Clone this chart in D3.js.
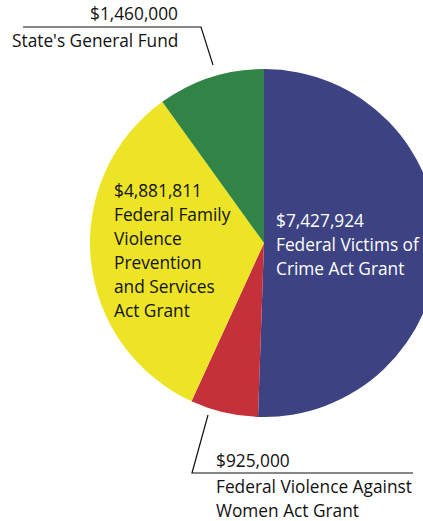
<!DOCTYPE html>
<html>
<head>
<meta charset="utf-8">
<script src="https://cdn.jsdelivr.net/npm/d3@7/dist/d3.min.js"></script>
<style>
  html, body { margin: 0; padding: 0; background: #fff; }
  svg text { font-family: "Open Sans", Lato, sans-serif; font-size: 17.3px; }
</style>
</head>
<body>
<svg id="chart" width="423" height="521"></svg>
<script>
// Funding sources, clockwise from twelve o'clock
const sources = ["Federal Victims of Crime Act Grant", "Federal Violence Against Women Act Grant",
                 "Federal Family Violence Prevention and Services Act Grant", "State's General Fund"];
const amounts = [7427924, 925000, 4881811, 1460000];
const colors = ["#3d4283", "#c4313a", "#ece425", "#318445"];

const svg = d3.select("#chart");
const cx = 264, cy = 243, r = 174;

const pie = d3.pie().sort(null).value(d => d)(amounts);
const arc = d3.arc().innerRadius(0).outerRadius(r);

const g = svg.append("g").attr("transform", `translate(${cx},${cy})`);
g.selectAll("path").data(pie).join("path")
  .attr("d", arc)
  .attr("fill", (d, i) => colors[i]);

const fmt = d3.format("$,");

function block(x, y, lines, fill, anchor) {
  const t = svg.append("text").attr("x", x).attr("y", y).attr("fill", fill)
    .attr("text-anchor", anchor || "start");
  lines.forEach((s, i) => t.append("tspan").attr("x", x).attr("dy", i ? 24 : 0).text(s));
}

// Inside labels
block(276, 227, [fmt(amounts[0]), "Federal Victims of", "Crime Act Grant"], "#fff");
block(114, 197, [fmt(amounts[2]), "Federal Family", "Violence", "Prevention", "and Services", "Act Grant"], "#111");

// Leader for the state fund slice
svg.append("path")
  .attr("d", d3.line()([[23, 27], [201, 27], [213, 65]]))
  .attr("fill", "none").attr("stroke", "#111").attr("stroke-width", 1.2);
svg.append("text").attr("x", 178).attr("y", 20).attr("text-anchor", "end").attr("fill", "#111").text(fmt(amounts[3]));
svg.append("text").attr("x", 12).attr("y", 47).attr("fill", "#111").text("State's General Fund");

// Leader for the violence against women slice
svg.append("path")
  .attr("d", d3.line()([[208, 415], [192, 473], [413, 473]]))
  .attr("fill", "none").attr("stroke", "#111").attr("stroke-width", 1.2);
block(216, 467, [fmt(amounts[1])], "#111");
block(216, 493, ["Federal Violence Against", "Women Act Grant"], "#111");
</script>
</body>
</html>
